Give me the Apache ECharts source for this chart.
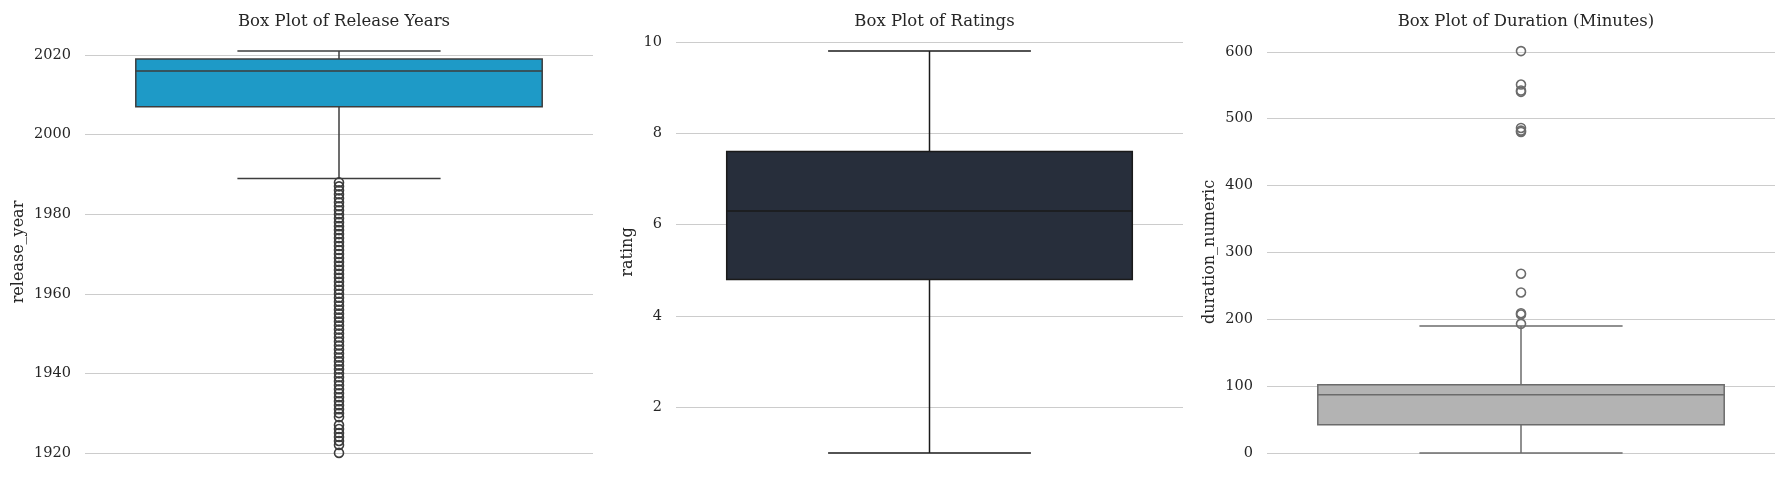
<!DOCTYPE html>
<html>
<head>
<meta charset="utf-8">
<script src="https://cdn.jsdelivr.net/npm/echarts@6/dist/echarts.min.js"></script>
<style>
  html, body { margin: 0; padding: 0; background: #ffffff; }
  #chart { width: 1784px; height: 484px; }
</style>
</head>
<body>
<div id="chart"></div>
<script>
// ---------- data ----------
const panelTitles = ['Box Plot of Release Years', 'Box Plot of Ratings', 'Box Plot of Duration (Minutes)'];
const axisNames = ['release_year', 'rating', 'duration_numeric'];

// [whisker low, Q1, median, Q3, whisker high]
const releaseYearStats = [1989, 2007, 2016, 2019, 2021];
const releaseYearOutliers = [1920, 1922, 1923, 1924, 1925, 1926, 1927,
  1929, 1930, 1931, 1932, 1933, 1934, 1935, 1936, 1937, 1938, 1939, 1940,
  1941, 1942, 1943, 1944, 1945, 1946, 1947, 1948, 1949, 1950, 1951, 1952,
  1953, 1954, 1955, 1956, 1957, 1958, 1959, 1960, 1961, 1962, 1963, 1964,
  1965, 1966, 1967, 1968, 1969, 1970, 1971, 1972, 1973, 1974, 1975, 1976,
  1977, 1978, 1979, 1980, 1981, 1982, 1983, 1984, 1985, 1986, 1987, 1988];

const ratingStats = [1.0, 4.8, 6.3, 7.6, 9.8];
const ratingOutliers = [];

const durationStats = [0, 42, 87, 102, 190];
const durationOutliers = [601, 551, 542, 540, 486, 482, 480, 268, 240, 209, 207, 193];

const releaseYearTicks = [1920, 1940, 1960, 1980, 2000, 2020];
const ratingTicks = [2, 4, 6, 8, 10];
const durationTicks = [0, 100, 200, 300, 400, 500, 600];

// ---------- style / layout ----------
const FONT = "'DejaVu Serif', 'Liberation Serif', serif";
const TEXT = '#262626';
const GRID = '#cccccc';

const panels = [
  { stats: releaseYearStats, outliers: releaseYearOutliers, ticks: releaseYearTicks,
    range: [1914.95, 2026.05], left: 85, width: 508, fill: '#1e9ac7', edge: '#3d3d3d', flier: '#3d3d3d', nameGap: 58 },
  { stats: ratingStats, outliers: ratingOutliers, ticks: ratingTicks,
    range: [0.56, 10.24], left: 676, width: 507, fill: '#272e3b', edge: '#1a1a1a', flier: '#1a1a1a', nameGap: 40 },
  { stats: durationStats, outliers: durationOutliers, ticks: durationTicks,
    range: [-30.05, 631.05], left: 1267, width: 508, fill: '#b3b3b3', edge: '#6b6b6b', flier: '#6b6b6b', nameGap: 49 }
];

const TOP = 31, HEIGHT = 442;

const grids = [], xAxes = [], yAxes = [], series = [], titles = [];

panels.forEach((p, i) => {
  grids.push({ left: p.left, top: TOP, width: p.width, height: HEIGHT, containLabel: false });
  titles.push({
    text: panelTitles[i],
    left: p.left + p.width / 2, top: 8, textAlign: 'center',
    textStyle: { fontFamily: FONT, fontSize: 16.5, fontWeight: 'normal', color: TEXT }
  });
  xAxes.push({
    type: 'category', gridIndex: i, data: [''], boundaryGap: true,
    axisLine: { show: false }, axisTick: { show: false }, axisLabel: { show: false },
    splitLine: { show: false }
  });
  yAxes.push({
    type: 'value', gridIndex: i, min: p.range[0], max: p.range[1],
    name: axisNames[i], nameLocation: 'middle', nameGap: p.nameGap, nameRotate: 90,
    nameTextStyle: { fontFamily: FONT, fontSize: 16, color: TEXT },
    axisLine: { show: false },
    axisTick: { show: false, customValues: p.ticks },
    axisLabel: { customValues: p.ticks, margin: 14, fontFamily: FONT, fontSize: 14.5, color: TEXT,
      formatter: v => String(v) },
    splitLine: { show: true, customValues: p.ticks, lineStyle: { color: GRID, width: 1.2 } }
  });

  series.push({
    type: 'custom', xAxisIndex: i, yAxisIndex: i,
    data: [[0].concat(p.stats)],
    encode: { x: 0, y: [1, 2, 3, 4, 5] },
    z: 3,
    renderItem: function (params, api) {
      const band = api.size([1, 0])[0];
      const cx = api.coord([api.value(0), 0])[0];
      const yLo = api.coord([0, api.value(1)])[1];
      const yQ1 = api.coord([0, api.value(2)])[1];
      const yMed = api.coord([0, api.value(3)])[1];
      const yQ3 = api.coord([0, api.value(4)])[1];
      const yHi = api.coord([0, api.value(5)])[1];
      const bw = band * 0.8, cw = band * 0.4;
      const ls = { stroke: p.edge, lineWidth: 1.5 };
      return {
        type: 'group',
        children: [
          { type: 'line', shape: { x1: cx, y1: yQ3, x2: cx, y2: yHi }, style: ls },
          { type: 'line', shape: { x1: cx, y1: yQ1, x2: cx, y2: yLo }, style: ls },
          { type: 'line', shape: { x1: cx - cw / 2, y1: yHi, x2: cx + cw / 2, y2: yHi }, style: ls },
          { type: 'line', shape: { x1: cx - cw / 2, y1: yLo, x2: cx + cw / 2, y2: yLo }, style: ls },
          { type: 'rect', shape: { x: cx - bw / 2, y: yQ3, width: bw, height: yQ1 - yQ3 },
            style: { fill: p.fill, stroke: p.edge, lineWidth: 1.5 } },
          { type: 'line', shape: { x1: cx - bw / 2, y1: yMed, x2: cx + bw / 2, y2: yMed }, style: ls }
        ]
      };
    }
  });

  series.push({
    type: 'scatter', xAxisIndex: i, yAxisIndex: i,
    data: p.outliers.map(v => [0, v]),
    symbol: 'circle', symbolSize: 9, z: 4,
    itemStyle: { color: 'rgba(0,0,0,0)', borderColor: p.flier, borderWidth: 1.6, opacity: 1 },
    silent: true
  });
});

const chart = echarts.init(document.getElementById('chart'), null, { renderer: 'canvas' });
chart.setOption({
  animation: false,
  backgroundColor: '#ffffff',
  title: titles,
  grid: grids,
  xAxis: xAxes,
  yAxis: yAxes,
  series: series
});
</script>
</body>
</html>
